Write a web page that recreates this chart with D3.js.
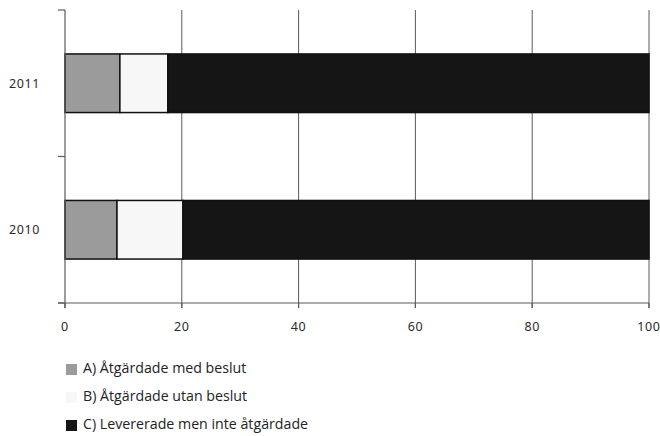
<!DOCTYPE html>
<html><head><meta charset="utf-8">
<script src="https://cdn.jsdelivr.net/npm/d3@7"></script>
<style>
body{margin:0;background:#fff;}
svg{display:block;}
.tick-lbl{font-family:"Noto Sans",sans-serif;font-size:12.5px;fill:#2a2a2a;letter-spacing:0.6px;}
.leg{font-family:"Open Sans","Noto Sans",sans-serif;font-size:14.2px;fill:#222;}
</style></head>
<body><svg id="c" width="660" height="436"></svg>
<script>
const categories = ["2011", "2010"];
const seriesNames = ["A) Åtgärdade med beslut", "B) Åtgärdade utan beslut", "C) Levererade men inte åtgärdade"];
const seriesA = [9.4, 8.9];
const seriesB = [8.2, 11.3];
const seriesC = [82.4, 79.8];
const xTicks = [0, 20, 40, 60, 80, 100];
const colors = ["#9b9b9b", "#f7f7f7", "#151515"];

const svg = d3.select("#c");
const m = {l: 65, r: 11, t: 10, b: 133};
const W = 660, H = 436;
const x = d3.scaleLinear().domain([0, 100]).range([m.l, W - m.r]);
const y = d3.scaleBand().domain(categories).range([m.t, H - m.b]).paddingInner(0.6).paddingOuter(0.3);

const axisCol = "#5a5a5a";
// gridlines
svg.append("g").selectAll("line").data(xTicks.slice(1)).join("line")
  .attr("x1", d => x(d)).attr("x2", d => x(d))
  .attr("y1", m.t).attr("y2", H - m.b + 5)
  .attr("stroke", axisCol).attr("stroke-width", 1);

// stacked bars
const rows = categories.map((c, i) => ({cat: c, vals: [seriesA[i], seriesB[i], seriesC[i]]}));
const stack = d3.stack().keys([0, 1, 2]).value((d, k) => d.vals[k]);
const layers = stack(rows);
layers.forEach((layer, k) => {
  svg.append("g").selectAll("rect").data(layer).join("rect")
    .attr("x", d => x(d[0]))
    .attr("width", d => x(d[1]) - x(d[0]))
    .attr("y", d => y(d.data.cat))
    .attr("height", y.bandwidth())
    .attr("fill", colors[k])
    .attr("stroke", "#111").attr("stroke-width", 1.5);
});

// y axis
const yTop = y.range()[0], yBot = y.range()[1];
svg.append("line").attr("x1", x(0)).attr("x2", x(0)).attr("y1", yTop).attr("y2", yBot + 5)
  .attr("stroke", axisCol).attr("stroke-width", 1.2);
const yTickPos = [yTop, yTop + (yBot - yTop) / 2, yBot];
svg.append("g").selectAll("line").data(yTickPos).join("line")
  .attr("x1", x(0) - 7).attr("x2", x(0)).attr("y1", d => d).attr("y2", d => d)
  .attr("stroke", axisCol).attr("stroke-width", 1.2);
svg.append("g").selectAll("text").data(categories).join("text")
  .attr("class", "tick-lbl")
  .attr("x", 40).attr("y", d => y(d) + y.bandwidth() / 2 + 1)
  .attr("text-anchor", "end").attr("dominant-baseline", "middle").text(d => d);

// x axis
svg.append("line").attr("x1", x(0) - 7).attr("x2", x(100)).attr("y1", yBot).attr("y2", yBot)
  .attr("stroke", axisCol).attr("stroke-width", 1.2);
svg.append("g").selectAll("line").data(xTicks).join("line")
  .attr("x1", d => x(d)).attr("x2", d => x(d)).attr("y1", yBot).attr("y2", yBot + 5)
  .attr("stroke", axisCol).attr("stroke-width", 1.2);
svg.append("g").selectAll("text").data(xTicks).join("text")
  .attr("class", "tick-lbl")
  .attr("x", d => x(d)).attr("y", yBot + 28)
  .attr("text-anchor", "middle").text(d => d);

// legend
const lg = svg.append("g").selectAll("g").data(seriesNames).join("g")
  .attr("transform", (d, i) => `translate(66,${364 + i * 28})`);
lg.append("rect").attr("width", 11).attr("height", 11).attr("fill", (d, i) => colors[i]);
lg.append("text").attr("class", "leg").attr("x", 17).attr("y", 5.5)
  .attr("dominant-baseline", "middle").text(d => d);
</script></body></html>
